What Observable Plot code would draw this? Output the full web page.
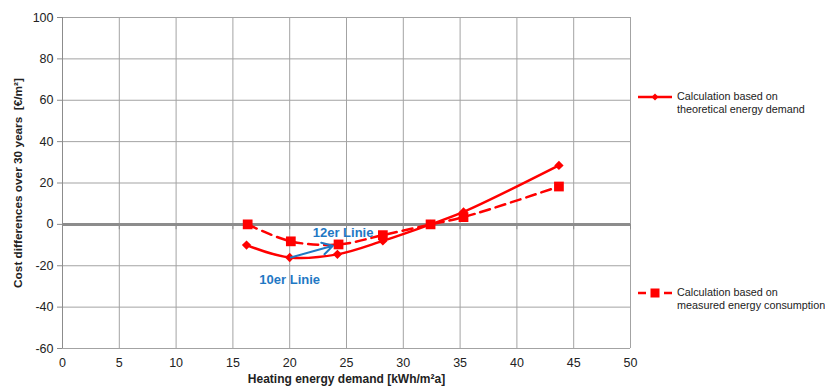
<!DOCTYPE html>
<html><head><meta charset="utf-8">
<script src="https://cdn.jsdelivr.net/npm/d3@7"></script>
<script src="https://cdn.jsdelivr.net/npm/@observablehq/plot@0.6"></script>
<style>
body{margin:0;background:#fff;font-family:"Liberation Sans",Arial,sans-serif;}
#wrap{position:relative;width:825px;height:389px;}
.leg{position:absolute;font-size:10.8px;line-height:13px;color:#222;}
.leg svg{position:absolute;left:0;top:0;}
.leg span{position:absolute;left:39px;top:0;white-space:nowrap;}
</style></head>
<body><div id="wrap"></div>
<script>
const demandX = [16.2, 20.0, 24.2, 28.2, 32.4, 35.3, 43.7];
const theoreticalY = [-10, -16, -14.5, -8, 0, 6, 28.5];
const measuredX = [16.3, 20.1, 24.3, 28.2, 32.4, 35.3, 43.7];
const measuredY = [0, -8.2, -9.7, -5.2, 0, 3.5, 18.3];
const xTicks = [0,5,10,15,20,25,30,35,40,45,50];
const yTicks = [-60,-40,-20,0,20,40,60,80,100];
const seriesNames = ["Calculation based on\ntheoretical energy demand", "Calculation based on\nmeasured energy consumption"];
const annoText = ["12er Linie", "10er Linie"];
const annoX = [24.7, 20.0];
const annoY = [-4.0, -26.6];
const arrowFrom = [20.1, -16.0];
const arrowTo = [23.8, -10.3];

const theo = demandX.map((x,i)=>({x, y: theoreticalY[i]}));
const meas = measuredX.map((x,i)=>({x, y: measuredY[i]}));
const annos = annoText.map((t,i)=>({t, x: annoX[i], y: annoY[i]}));
const red = "#ff0000", blue = "#1f78c4", grid = "#a3a3a3";

const chart = Plot.plot({
  width: 825, height: 389,
  marginLeft: 62, marginRight: 195, marginTop: 17, marginBottom: 41,
  style: {fontFamily: "Liberation Sans, Arial, sans-serif", fontSize: "12px", color: "#222", background: "#fff"},
  x: {domain: [0, 50]},
  y: {domain: [-60, 100]},
  marks: [
    Plot.gridX(xTicks, {stroke: grid, strokeOpacity: 1}),
    Plot.gridY(yTicks, {stroke: grid, strokeOpacity: 1}),
    Plot.ruleX([0], {stroke: "#8c8c8c", strokeWidth: 1}),
    Plot.ruleY([0], {stroke: "#8c8c8c", strokeWidth: 3}),
    Plot.ruleX(xTicks, {x: d=>d, y1: 0, y2: -2.6, stroke: "#8c8c8c"}),
    Plot.axisY(yTicks, {tickSize: 5, tickPadding: 4, stroke: "#8c8c8c", fontSize: 12.5, label: null, tickFormat: d=>String(d)}),
    Plot.axisX(xTicks, {anchor: "bottom", tickSize: 0, tickPadding: 10, fontSize: 12.5, label: null, tickFormat: d=>String(d)}),
    Plot.text(["Cost differences over 30 years  [€/m²]"], {frameAnchor: "left", textAnchor: "middle", dx: -44, rotate: -90, fontWeight: "bold", fontSize: 11.8}),
    Plot.text(["Heating energy demand [kWh/m²a]"], {frameAnchor: "bottom", dy: 34, fontWeight: "bold", fontSize: 12}),
    Plot.line(meas, {x: "x", y: "y", stroke: red, strokeWidth: 2.5, strokeDasharray: "10,6", curve: "catmull-rom"}),
    Plot.line(theo, {x: "x", y: "y", stroke: red, strokeWidth: 2.5, curve: "catmull-rom"}),
    Plot.dot(meas, {x: "x", y: "y", symbol: "square", r: 5.5, fill: red, stroke: "none"}),
    Plot.dot(theo, {x: "x", y: "y", symbol: "diamond2", r: 4.2, fill: red, stroke: "none"}),
    Plot.arrow([{}], {x1: ()=>arrowFrom[0], y1: ()=>arrowFrom[1], x2: ()=>arrowTo[0], y2: ()=>arrowTo[1], stroke: blue, strokeWidth: 2, headLength: 9}),
    Plot.text(annos, {x: "x", y: "y", text: "t", fill: blue, fontWeight: "bold", fontSize: 13})
  ]
});
const wrap = document.getElementById("wrap");
wrap.appendChild(chart);

const legPos = [{left: 638, top: 90, dash: null, sym: "diamond"}, {left: 638, top: 286, dash: "8,5", sym: "square"}];
seriesNames.forEach((name, i) => {
  const p = legPos[i];
  const d = document.createElement("div");
  d.className = "leg";
  d.style.left = p.left + "px"; d.style.top = p.top + "px";
  const marker = p.sym === "diamond"
    ? `<path d="M17 3.5 L20.5 7 L17 10.5 L13.5 7 Z" fill="${red}"/>`
    : `<rect x="12.5" y="2.5" width="9" height="9" fill="${red}"/>`;
  d.innerHTML = `<svg width="36" height="14"><line x1="0" y1="7" x2="34" y2="7" stroke="${red}" stroke-width="2.5" ${p.dash ? `stroke-dasharray="${p.dash}"` : ""}/>${marker}</svg><span>${name.replace("\n", "<br>")}</span>`;
  wrap.appendChild(d);
});
</script></body></html>
